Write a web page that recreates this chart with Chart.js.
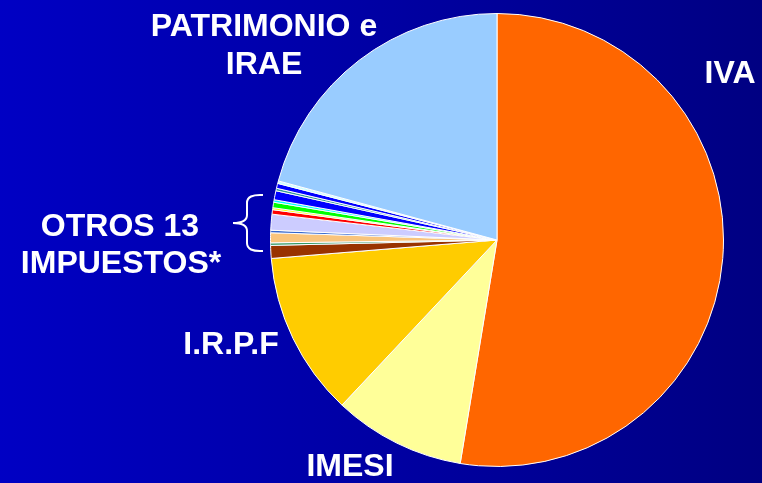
<!DOCTYPE html>
<html>
<head>
<meta charset="utf-8">
<script src="https://cdn.jsdelivr.net/npm/chart.js@4.4.1/dist/chart.umd.min.js"></script>
<style>
  html, body { margin: 0; padding: 0; }
  body { width: 762px; height: 483px; overflow: hidden; }
  #wrap {
    width: 762px; height: 483px;
    background: linear-gradient(to right, #0000C4, #000082);
  }
</style>
</head>
<body>
<div id="wrap"><canvas id="pieChart" width="762" height="483"></canvas></div>
<script>
// Recaudación por impuesto (% del total), en sentido horario desde arriba
const categories = [
  'IVA', 'IMESI', 'I.R.P.F',
  'Otro 1', 'Otro 2', 'Otro 3', 'Otro 4', 'Otro 5', 'Otro 6', 'Otro 7',
  'Otro 8', 'Otro 9', 'Otro 10', 'Otro 11', 'Otro 12', 'Otro 13',
  'PATRIMONIO e IRAE'
];
const values = [
  52.6, 9.4, 11.7,
  0.92, 0.18, 0.71, 0.18, 1.13, 0.32, 0.14,
  0.39, 0.18, 0.64, 0.18, 0.35, 0.18,
  20.8
];
const sliceColors = [
  '#FF6600', '#FFFF99', '#FFCC00',
  '#993300', '#339966', '#F9C47C', '#3366CC', '#CCCCFF', '#FF0000', '#FFFF00',
  '#00FF00', '#00FFFF', '#0000FF', '#339999', '#0000FF', '#CCFFFF',
  '#99CCFF'
];

// etiquetas de texto: [texto, x, y(línea base)]
const labelTexts = [
  ['PATRIMONIO e', 264, 36],
  ['IRAE', 264, 74],
  ['IVA', 730, 83],
  ['OTROS 13', 120, 236],
  ['IMPUESTOS*', 121, 273],
  ['I.R.P.F', 231, 354],
  ['IMESI', 350, 476]
];

const labelsPlugin = {
  id: 'labelsPlugin',
  afterDraw(chart) {
    const ctx = chart.ctx;
    ctx.save();
    ctx.fillStyle = '#FFFFFF';
    ctx.font = 'bold 32px "Liberation Sans", Arial, sans-serif';
    ctx.textAlign = 'center';
    ctx.textBaseline = 'alphabetic';
    labelTexts.forEach(([t, x, y]) => ctx.fillText(t, x, y));

    // llave que agrupa los otros impuestos
    ctx.strokeStyle = '#FFFFFF';
    ctx.lineWidth = 2;
    ctx.beginPath();
    ctx.moveTo(263, 195);
    ctx.quadraticCurveTo(247, 194, 247, 203);
    ctx.lineTo(247, 215);
    ctx.quadraticCurveTo(247, 223, 233, 223);
    ctx.quadraticCurveTo(247, 223, 247, 231);
    ctx.lineTo(247, 243);
    ctx.quadraticCurveTo(247, 252, 263, 251);
    ctx.stroke();
    ctx.restore();
  }
};

new Chart(document.getElementById('pieChart'), {
  type: 'pie',
  data: {
    labels: categories,
    datasets: [{
      data: values,
      backgroundColor: sliceColors,
      borderColor: '#FFFFFF',
      borderWidth: 1
    }]
  },
  options: {
    responsive: false,
    animation: false,
    layout: { padding: { left: 270, right: 38, top: 13, bottom: 16 } },
    plugins: {
      legend: { display: false },
      tooltip: { enabled: false }
    }
  },
  plugins: [labelsPlugin]
});
</script>
</body>
</html>
